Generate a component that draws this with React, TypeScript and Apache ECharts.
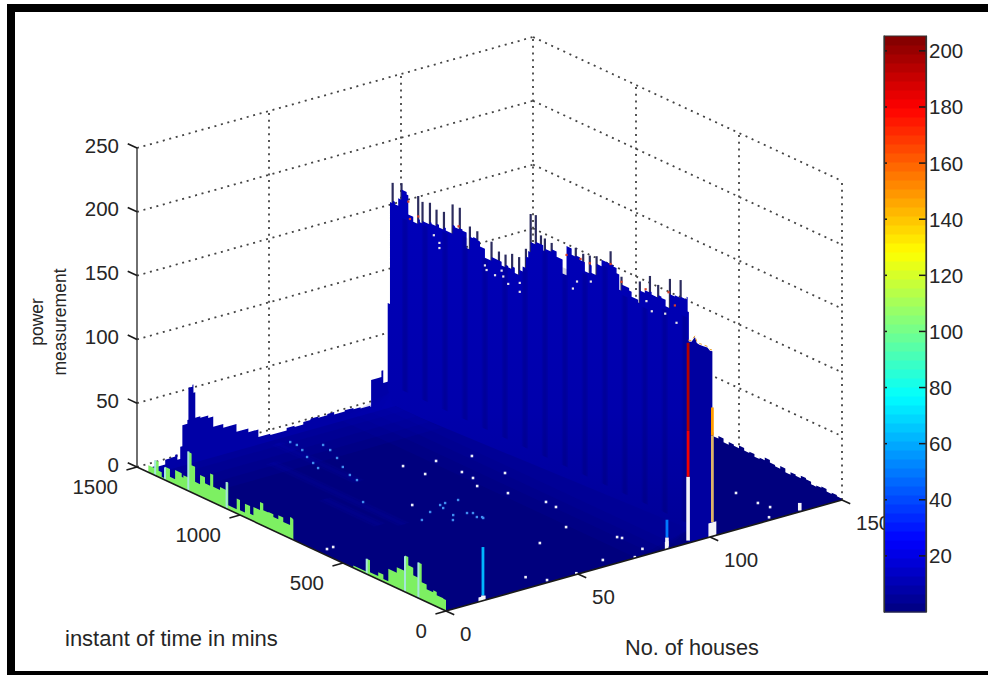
import React, { useEffect, useRef } from "react";
import * as echarts from "echarts";

// ---------- data ----------
const zTicks = [0, 50, 100, 150, 200, 250];
const timeTicks = [0, 500, 1000, 1500];
const houseTicks = [0, 50, 100, 150];
const colorbarTicks = [20, 40, 60, 80, 100, 120, 140, 160, 180, 200];

// tall ridge along house 92: time (min) and height of the stepped skyline
const ridgeTimes = [1462, 1451, 1438, 1427, 1411, 1395, 1370, 1362, 1338, 1314, 1306, 1293, 1281, 1257, 1249, 1225, 1213, 1189, 1180, 1147, 1136, 1112, 1099, 1079, 1063, 1047, 1027, 1014, 990, 958, 947, 922, 909, 890, 877, 858, 845, 824, 807, 791, 780, 768, 756, 743, 731, 718, 707, 699, 683, 666, 642, 613, 594, 569, 549, 529, 513, 505, 481, 472, 448, 424, 403, 380, 367, 351, 338, 327, 303, 290, 278, 246, 238, 214, 189, 181, 149, 133, 113, 92, 68, 40, 11, 6, 0];
const ridgeHeights = [78, 158, 160, 158, 164, 172, 170, 155, 151, 155, 153, 155, 155, 157, 156, 158, 156, 158, 156, 163, 162, 163, 162, 150, 160, 161, 160, 156, 149, 152, 152, 152, 149, 151, 150, 152, 148, 152, 156, 165, 170, 178, 178, 180, 180, 180, 176, 178, 178, 180, 176, 165, 188, 183, 184, 182, 182, 175, 182, 176, 185, 190, 190, 190, 189, 185, 173, 178, 178, 176, 172, 170, 180, 182, 183, 181, 183, 182, 177, 188, 189, 190, 192, 181, 178];
const spikeTimes = [1438, 1395, 1314, 1293, 1257, 1225, 1189, 1147, 1112, 1063, 1027, 958, 922, 890, 858, 824, 791, 768, 743, 718, 699, 666, 549, 513, 481, 448, 380, 327, 238, 189, 149, 92, 40];
const spikeHeights = [174, 177, 173, 170, 172, 169, 170, 179, 179, 168, 167, 164, 159, 159, 162, 162, 171, 200, 201, 187, 186, 185, 190, 188, 189, 191, 200, 184, 187, 195, 191, 200, 203];
const stripeTimes = [1378, 1281, 1184, 1087, 990, 893, 796, 699, 602, 505, 408, 311, 214, 117, 20];
const stripeTops = [150, 152, 154, 158, 148, 149, 155, 176, 170, 173, 186, 170, 168, 174, 176];

// front of the block between houses 92 and 100
const blockHouses = [91.8, 93, 94.3, 95, 96, 97.5, 99, 100, 100.9];
const blockHeights = [158, 157, 160, 155, 153, 151, 149, 146, 145];

// low back edge of the surface, at time 1440
const backHouses = [0, 3, 6, 8, 9.8, 10.6, 11.7, 12.5, 14.4, 14.8, 16.3, 16.7, 17.4, 19.3, 22.3, 24.2, 28, 33, 37.5, 41.3, 45.8, 52, 55, 58.3, 61, 64, 67.4, 70, 74, 77.3, 80, 83.7, 84, 86.7, 87.9, 88.6, 90.5, 92];
const backHeights = [4, 3, 6.7, 7, 8.4, 4, 13.6, 30, 33, 58, 59.5, 53, 33, 32, 30, 22, 19, 13, 10, 4, 3, 5, 4, 6, 7, 6, 7, 5, 6, 5, 4, 3, 24, 24, 29, 19, 17, 16];
// brighter part of the floor behind these times
const backBandTimes = [1380, 1320, 1260, 1200];

// jagged right edge of the surface, house 150
const rightEdgeTimes = [0, 25, 50, 75, 100, 125, 150, 175, 200, 225, 250, 275, 300, 325, 350, 375, 400, 425, 450, 475, 500, 525, 550, 575, 600, 625, 650, 700, 1440];
const rightEdgeHeights = [1, 2, 1, 3, 2, 1, 3, 4, 2, 3, 1, 4, 2, 3, 5, 3, 2, 4, 3, 5, 3, 4, 2, 5, 3, 6, 4, 3, 0];

// green skyline along house 0
const greenBackTimes = [1480, 1445, 1412, 1395, 1380, 1364, 1340, 1315, 1283, 1275, 1251, 1235, 1218, 1194, 1170, 1145, 1130, 1097, 1065, 1057, 1016, 1000, 976, 951, 935, 903, 887, 862, 838, 814, 790, 757, 745, 741];
const greenBackHeights = [0, 5.6, 12, 5, 1.3, 10.4, 4.4, 11.5, 8.6, 10.5, 30.6, 21.4, 9.6, 16.7, 12, 21.7, 12.3, 14.6, 21, 3.4, 11.7, 3.7, 10.7, 4.7, 11.2, 17.5, 12.3, 12.8, 10.7, 13.8, 10.4, 16.7, 16, 0];
const greenFrontTimes = [455, 450, 385, 369, 329, 304, 280, 239, 199, 183, 159, 134, 118, 94, 62, 45, 13, 0];
const greenFrontHeights = [0, 1.8, 12, 2.6, 5.7, 2.3, 12, 16.4, 28.5, 22, 16, 28, 13.7, 10, 11.6, 9, 8.6, 0];
// pale spikes on the green band: time, height
const paleSpikes = [[1251, 31], [1364, 10], [1065, 21], [1412, 12], [385, 12], [199, 28], [134, 28]];

// faint lighter bands on the floor: house, first time, last time
const floorBands = [[34, 640, 1284], [28, 680, 950], [45, 1000, 1400]];

// narrow streaks: house, low, high, power level (0 = white, -1 = pale tan)
const streakHouses = [91.7, 91.7, 91.7, 100.9, 100.9, 83.7, 83.7, 14, 14, 134];
const streakLows = [2, 52, 88, 11, 79, 9, 2, 4, 0, 1];
const streakHighs = [52, 88, 157, 79, 101, 23, 9, 42, 4, 7];
const streakLevels = [0, 182, 195, -1, 148, 50, 0, 62, 0, 0];
// white feet of the streaks: first house, last house, height
const footHouses = [[99.4, 102.4, 11], [82.9, 84.3, 6], [12.3, 15, 3.5]];

// specks on the floor: house, time
const whiteSpecks = [[84.8, 961], [74.3, 875], [73.9, 816], [84, 790], [70.8, 756], [74.5, 654], [79, 527], [78.8, 476], [71, 327], [56.7, 271], [78, 169], [78.7, 154], [63, 46], [36, 75], [39.6, 17], [50, 8], [78, 46], [72, 6], [128.5, 239], [128.6, 134], [129.4, 85], [124, 21], [63.4, 1021], [73.8, 994], [64.6, 929], [45.8, 751], [3.3, 620], [5.8, 622]];
const blueSpecks = [[48.9, 1383], [49, 1352], [47.7, 1309], [45.3, 1255], [43.7, 1205], [42.3, 1163], [55.2, 1304], [54.3, 1258], [51.9, 1194], [48.7, 1125], [46.3, 1060], [45.4, 1014], [35.7, 860], [40.5, 636], [46.5, 673], [52.4, 700], [54.6, 704], [50.4, 611], [59.2, 700], [54.7, 599], [56.1, 588], [56.2, 545], [55, 555], [56, 537], [47.8, 579], [51.6, 675]];
// specks on the ridge: time, height
const ridgeWhiteSpecks = [[1238, 148], [1211, 144], [1211, 140], [990, 143], [982, 140], [941, 139], [909, 145], [901, 141], [877, 137], [821, 142], [821, 135], [563, 157], [543, 164], [476, 169], [206, 174], [180, 168], [115, 171], [60, 168]];
const ridgeRedSpecks = [[1362, 165], [1354, 152], [1314, 157], [1118, 164], [594, 181], [526, 183], [481, 183], [380, 190], [327, 180], [210, 183], [99, 189], [68, 181]];

const colorLevels = Array.from({ length: 64 }, (_, i) => i);
const colorMin = 0;
const colorMax = 205.3;

// ---------- projection of the 3D box on the picture ----------
const project = (h: number, t: number, z: number): [number, number] => [
  446 + 2.64 * h - 0.206 * t,
  611 - 0.74 * h - 0.096 * t - 1.276 * z,
];

const jet = (u: number) => {
  const f = (d: number) => Math.max(0, Math.min(1, 1.5 - Math.abs(4 * u - d)));
  const c = (v: number) => Math.round(v * 255);
  return `rgb(${c(f(3))},${c(f(2))},${c(f(1))})`;
};
const levelColor = (v: number) => (v === 0 ? "#f4f4fa" : v < 0 ? "#dcb468" : jet(v / colorMax));

const FONT = '"Liberation Sans", Arial, sans-serif';
const TEXT = "#262626";

function buildOption() {
  const layer = (name: string, build: (P: (h: number, t: number, z: number) => number[]) => any[]) => ({
    type: "custom",
    name,
    silent: true,
    clip: false,
    data: [[0, 0]],
    renderItem: (_p: any, api: any) => ({
      type: "group",
      children: build((h, t, z) => api.coord(project(h, t, z))),
    }),
  });
  const speckLayer = (name: string, rows: number[][], fill: string, size: number, toPoint: (r: number[]) => [number, number, number]) => ({
    type: "custom",
    name,
    silent: true,
    clip: false,
    data: rows,
    renderItem: (_p: any, api: any) => {
      const [h, t, z] = toPoint([api.value(0), api.value(1)]);
      const [x, y] = api.coord(project(h, t, z));
      return { type: "rect", shape: { x: x - size / 2, y: y - size / 2, width: size, height: size }, style: { fill } };
    },
  });

  const dotted = { stroke: "#444", lineWidth: 1.8, lineDash: [2, 4.7] };
  const seg = (a: number[], b: number[], style: any) => ({
    type: "line",
    shape: { x1: a[0], y1: a[1], x2: b[0], y2: b[1] },
    style,
  });
  const label = (text: string, x: number, y: number, align: string, fontSize = 20.5, rotation = 0) => ({
    type: "text",
    x,
    y,
    rotation,
    style: { text, x: 0, y: 0, fill: TEXT, fontSize, fontFamily: FONT, align, verticalAlign: "middle" },
  });
  // stepped outline: each value is held until the next key
  const steps = (keys: number[], values: number[], at: (k: number, v: number) => number[]) => {
    const pts: number[][] = [];
    keys.forEach((k, i) => {
      pts.push(at(k, values[i]));
      if (i < keys.length - 1) pts.push(at(keys[i + 1], values[i]));
    });
    return pts;
  };

  const walls = layer("walls", (P) => {
    const out: any[] = [];
    zTicks.forEach((z) => {
      out.push(seg(P(0, 1500, z), P(150, 1500, z), dotted));
      out.push(seg(P(150, 1500, z), P(150, 0, z), dotted));
    });
    [50, 100, 150].forEach((h) => out.push(seg(P(h, 1500, 0), P(h, 1500, 250), dotted)));
    [1000, 500, 0].forEach((t) => out.push(seg(P(150, t, 0), P(150, t, 250), dotted)));
    return out;
  });

  const floor = layer("floor", (P) => {
    const pts: number[][] = [
      P(0, 1440, 0),
      P(0, 0, 0),
      P(150, 0, 0),
      ...steps(rightEdgeTimes, rightEdgeHeights, (t, z) => P(150, t, z)),
    ];
    const out: any[] = [{ type: "polygon", shape: { points: pts }, style: { fill: "#00007e" } }];
    backBandTimes.forEach((t) => {
      out.push({
        type: "polygon",
        shape: { points: [P(0, 1440, 0), P(92, 1440, 0), P(92, t, 0), P(0, t, 0)] },
        style: { fill: "rgba(0,0,210,0.1)" },
      });
    });
    floorBands.forEach(([h, t0, t1]) => {
      [2.2, 1].forEach((w) => {
        out.push({
          type: "polygon",
          shape: { points: [P(h - w, t0, 0), P(h + w, t0, 0), P(h + w, t1, 0), P(h - w, t1, 0)] },
          style: { fill: "rgba(10,10,200,0.08)" },
        });
      });
    });
    return out;
  });

  const back = layer("back", (P) => {
    const pts = [
      P(0, 1425, 0),
      ...steps(backHouses, backHeights, (h, z) => P(h, 1440, z)),
      P(92, 1425, 0),
    ];
    return [{ type: "polygon", shape: { points: pts }, style: { fill: "#0000a6" } }];
  });

  const ridge = layer("ridge", (P) => {
    const foot = 11;
    const out: any[] = [];
    [20, 14, 9, 4].forEach((k) => {
      out.push({
        type: "polygon",
        shape: { points: [P(92, 1440, foot), P(92, 0, foot), P(92 - k, 0, 0), P(92 - k, 1440, 0)] },
        style: { fill: "rgba(0,0,190,0.12)" },
      });
    });
    spikeTimes.forEach((t, i) => {
      out.push(seg(P(92, t, 120), P(92, t, spikeHeights[i]), { stroke: "#2c2c5e", lineWidth: 2.2 }));
    });
    const pts: number[][] = [
      P(92, 1462, foot),
      ...steps(ridgeTimes, ridgeHeights, (t, z) => P(92, t, z)),
      P(92, 0, foot),
      P(92, 1300, 0),
      P(92, 1440, 0),
    ];
    const fill = new (echarts as any).graphic.LinearGradient(0, 0, 0, 1, [
      { offset: 0, color: "#0000ba" },
      { offset: 0.65, color: "#0000ac" },
      { offset: 1, color: "#000098" },
    ]);
    out.push({ type: "polygon", shape: { points: pts }, style: { fill } });
    stripeTimes.forEach((t, i) => {
      [15, 8].forEach((w) => {
        out.push({
          type: "polygon",
          shape: { points: [P(92, t - w, stripeTops[i]), P(92, t + w, stripeTops[i]), P(92, t + w, foot + 4), P(92, t - w, foot + 4)] },
          style: { fill: "rgba(0,0,70,0.085)" },
        });
      });
    });
    return out;
  });

  const block = layer("block", (P) => {
    const pts: number[][] = [P(blockHouses[0], 0, 0)];
    blockHouses.forEach((h, i) => pts.push(P(h, 0, blockHeights[i])));
    pts.push(P(blockHouses[blockHouses.length - 1], 0, 0));
    const sky = blockHouses.map((h, i) => P(h, 0, blockHeights[i] + 1));
    return [
      { type: "polygon", shape: { points: pts }, style: { fill: "#0000a0" } },
      { type: "polyline", shape: { points: sky }, style: { stroke: "#e8a030", lineWidth: 1, lineDash: [3, 3], fill: "none" } },
    ];
  });

  const streaks = layer("streaks", (P) => [
    ...streakHouses.map((h, i) =>
      seg(P(h, 0, streakLows[i]), P(h, 0, streakHighs[i]), {
        stroke: levelColor(streakLevels[i]),
        lineWidth: streakLevels[i] === 0 ? 3.6 : 2.8,
      })
    ),
    ...footHouses.map(([h0, h1, z]) => ({
      type: "polygon",
      shape: { points: [P(h0, 0, 0), P(h0, 0, z), P(h1, 0, z), P(h1, 0, 0)] },
      style: { fill: "#f4f4fa" },
    })),
  ]);

  const greenPoly = (P: any, times: number[], heights: number[]) => ({
    type: "polygon",
    shape: { points: steps(times, heights, (t, z) => P(0, t, z)) },
    style: { fill: "#7df062" },
  });
  const green = layer("green", (P) => [
    greenPoly(P, greenBackTimes, greenBackHeights),
    greenPoly(P, greenFrontTimes, greenFrontHeights),
    ...paleSpikes.map(([t, z]) => seg(P(0, t, 0), P(0, t, z), { stroke: "#a6e6dc", lineWidth: 2 })),
  ]);

  const axes = layer("axes", (P) => {
    const ax = { stroke: "#1a1a1a", lineWidth: 1.6 };
    const out: any[] = [
      seg(P(0, 1500, 0), P(0, 1500, 250), { stroke: "#333", lineWidth: 1.4 }),
      seg(P(0, 1500, 0), P(0, 0, 0), ax),
      seg(P(0, 0, 0), P(150, 0, 0), ax),
    ];
    zTicks.forEach((z) => {
      out.push(seg(P(0, 1500, z), P(0, 1545, z), ax));
      const p = P(0, 1500, z);
      out.push(label(String(z), p[0] - 18, p[1] - 3, "right"));
    });
    timeTicks.forEach((t) => {
      out.push(seg(P(0, t, 0), P(-4, t, 0), ax));
      const p = P(0, t, 0);
      out.push(label(String(t), p[0] - 19, p[1] + 19, "right"));
    });
    houseTicks.forEach((h) => {
      out.push(seg(P(h, 0, 0), P(h, -40, 0), ax));
      const p = P(h, 0, 0);
      out.push(label(String(h), p[0] + 14, p[1] + 22, "left"));
    });
    return out;
  });

  const titles = {
    type: "custom",
    name: "titles",
    silent: true,
    clip: false,
    data: [[0, 0]],
    renderItem: (_p: any, api: any) => {
      const at = (x: number, y: number) => api.coord([x, y]);
      const a = at(65, 638);
      const b = at(625, 647);
      const c = at(37, 322);
      const d = at(60, 322);
      return {
        type: "group",
        children: [
          label("instant of time in mins", a[0], a[1], "left", 22),
          label("No. of houses", b[0], b[1], "left", 21.7),
          label("power", c[0], c[1], "center", 17.5, Math.PI / 2),
          label("measurement", d[0], d[1], "center", 17.5, Math.PI / 2),
        ],
      };
    },
  };

  const step = (colorMax - colorMin) / colorLevels.length;
  const colorbar = {
    type: "custom",
    name: "colorbar",
    silent: true,
    clip: false,
    xAxisIndex: 1,
    yAxisIndex: 1,
    data: colorLevels.map((l) => [0, l]),
    renderItem: (_p: any, api: any) => {
      const l = api.value(1);
      const a = api.coord([0, colorMin + (l + 1) * step]);
      const b = api.coord([1, colorMin + l * step]);
      return {
        type: "rect",
        shape: { x: a[0], y: a[1], width: b[0] - a[0], height: b[1] - a[1] + 0.6 },
        style: { fill: jet((l + 0.5) / colorLevels.length) },
      };
    },
  };
  // tick marks inside the colour bar, on top of its colours
  const colorbarMarks = {
    type: "custom",
    name: "colorbarMarks",
    silent: true,
    clip: false,
    xAxisIndex: 1,
    yAxisIndex: 1,
    data: colorbarTicks.map((v) => [0, v]),
    renderItem: (_p: any, api: any) => {
      const v = api.value(1);
      const a = api.coord([0, v]);
      const b = api.coord([1, v]);
      const st = { stroke: "#1a1a1a", lineWidth: 1.5 };
      return {
        type: "group",
        children: [
          seg([a[0], a[1]], [a[0] + 3, a[1]], st),
          seg([b[0] - 7, b[1]], [b[0], b[1]], st),
        ],
      };
    },
  };

  const frame = (x: number, y: number, w: number, h: number) => ({
    type: "rect",
    shape: { x, y, width: w, height: h },
    style: { fill: "#000" },
  });

  const barAxis = {
    type: "value",
    gridIndex: 1,
    min: colorMin,
    max: colorMax,
    z: 10,
    splitLine: { show: false },
    axisLine: { show: true, lineStyle: { color: "#333", width: 1.2 } },
    axisTick: { show: false },
  };

  return {
    animation: false,
    backgroundColor: "#ffffff",
    grid: [
      { left: 0, top: 0, width: 988, height: 675 },
      { left: 884, top: 36, width: 42, height: 576, show: true, z: 10, borderColor: "#333", borderWidth: 1.2, backgroundColor: "transparent" },
    ],
    xAxis: [
      { type: "value", gridIndex: 0, min: 0, max: 988, show: false },
      { type: "value", gridIndex: 1, min: 0, max: 1, show: false },
    ],
    yAxis: [
      { type: "value", gridIndex: 0, min: 0, max: 675, inverse: true, show: false },
      { ...barAxis, position: "left", axisLabel: { show: false } },
      {
        ...barAxis,
        position: "right",
        axisLabel: { show: true, inside: false, margin: 3, color: TEXT, fontSize: 20.5, fontFamily: FONT, customValues: colorbarTicks },
      },
    ],
    graphic: [
      frame(7, 4, 981, 8),
      frame(7, 4, 8, 671),
      frame(7, 671, 981, 4),
    ],
    series: [
      walls,
      floor,
      back,
      ridge,
      block,
      speckLayer("whiteSpecks", whiteSpecks, "#eef0fa", 2.6, ([h, t]) => [h, t, 0]),
      speckLayer("blueSpecks", blueSpecks, "#3f8df0", 2.4, ([h, t]) => [h, t, 0]),
      speckLayer("ridgeWhite", ridgeWhiteSpecks, "#e8e4ea", 2.2, ([t, z]) => [92, t, z]),
      speckLayer("ridgeRed", ridgeRedSpecks, "#d8402a", 2.2, ([t, z]) => [92, t, z]),
      streaks,
      green,
      axes,
      titles,
      colorbar,
      colorbarMarks,
    ],
  };
}

export default function App() {
  const ref = useRef<HTMLDivElement>(null);
  useEffect(() => {
    document.body.style.margin = "0";
    const chart = echarts.init(ref.current as HTMLDivElement, undefined, { renderer: "svg" });
    chart.setOption(buildOption() as any);
    return () => chart.dispose();
  }, []);
  return <div ref={ref} style={{ width: 988, height: 675 }} />;
}
